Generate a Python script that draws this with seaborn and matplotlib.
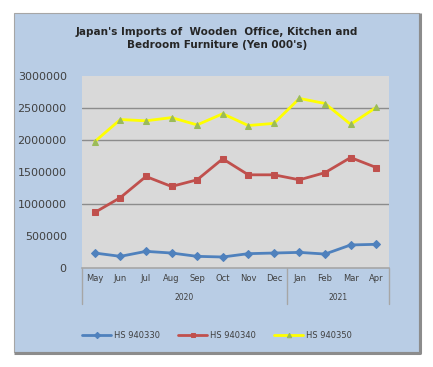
import pandas as pd
import matplotlib.pyplot as plt
import matplotlib.transforms as mtransforms
from matplotlib.patches import Rectangle
import seaborn as sns

months = ['May', 'Jun', 'Jul', 'Aug', 'Sep', 'Oct', 'Nov', 'Dec',
          'Jan', 'Feb', 'Mar', 'Apr']
years = ['2020', '2021']
hs940330 = [234000, 182000, 260000, 234000, 182000, 172000, 224000, 234000,
            244000, 218000, 360000, 370000]
hs940340 = [868000, 1100000, 1430000, 1274000, 1378000, 1706000, 1456000,
            1456000, 1378000, 1490000, 1726000, 1570000]
hs940350 = [1976000, 2320000, 2300000, 2350000, 2236000, 2410000, 2226000,
            2260000, 2650000, 2570000, 2245000, 2510000]
series_names = ['HS 940330', 'HS 940340', 'HS 940350']
visible_grid = [1000000, 2000000, 2500000]

df = pd.DataFrame({'month': months * 3,
                   'value': hs940330 + hs940340 + hs940350,
                   'series': [s for s in series_names for _ in months]})

sns.set_style('white')
plt.rcParams['font.family'] = ['DejaVu Sans']

fig = plt.figure(figsize=(4.33, 3.67), dpi=100)
fig.patch.set_facecolor('white')

# light blue chart box behind everything
bg = fig.add_axes([0, 0, 1, 1], zorder=-1)
bg.axis('off')
bg.set_xlim(0, 433)
bg.set_ylim(367, 0)
bg.add_patch(Rectangle((14, 13), 405, 339, facecolor='#B9CDE5',
                       edgecolor='#A6A6A6', linewidth=0.8))
bg.plot([419.5, 419.5, 14], [13, 352.5, 352.5], color='#8C8C8C', linewidth=2.2,
        solid_capstyle='butt')

ax = fig.add_axes([82 / 433, 1 - 268 / 367, 307 / 433, 192 / 367], zorder=1)
ax.set_facecolor('#D9D9D9')

palette = {'HS 940330': '#4F81BD', 'HS 940340': '#C0504D', 'HS 940350': '#FFFF00'}
marks = {'HS 940330': 'D', 'HS 940340': 's', 'HS 940350': '^'}
sns.lineplot(data=df, x='month', y='value', hue='series', style='series',
             palette=palette, markers=marks, dashes=False, linewidth=2,
             markersize=4, ax=ax, legend=False, sort=False)
# olive markers on the yellow line
for line in ax.lines:
    if line.get_marker() == '^':
        line.set_markerfacecolor('#9BBB59')
        line.set_markeredgecolor('#9BBB59')
    else:
        line.set_markeredgecolor(line.get_color())
    line.set_zorder(3)

for g in visible_grid:
    ax.axhline(g, color='#8C8C8C', linewidth=1, zorder=1)

ax.set_xlim(-0.5, 11.5)
ax.set_ylim(0, 3000000)
ax.set_yticks(range(0, 3000001, 500000))
ax.set_yticklabels([str(v) for v in range(0, 3000001, 500000)])
ax.set_xlabel('')
ax.set_ylabel('')
ax.tick_params(axis='y', length=0, pad=11, labelsize=8, labelcolor='#404040')
ax.tick_params(axis='x', length=0, pad=4, labelsize=6, labelcolor='#404040')
for s in ['top', 'right', 'left']:
    ax.spines[s].set_visible(False)
ax.spines['bottom'].set_color('#A6A6A6')
ax.spines['bottom'].set_linewidth(1.2)

trans = mtransforms.blended_transform_factory(ax.transData, ax.transAxes)
for xs in [-0.5, 7.5, 11.5]:
    ax.plot([xs, xs], [0, -0.185], transform=trans, color='#A6A6A6',
            linewidth=1, clip_on=False)
ax.text(3.5, -0.155, years[0], transform=trans, ha='center', va='center',
        fontsize=5.5, color='#404040')
ax.text(9.5, -0.155, years[1], transform=trans, ha='center', va='center',
        fontsize=5.5, color='#404040')

fig.text(217 / 433, 1 - 32 / 367,
         "Japan's Imports of  Wooden  Office, Kitchen and",
         ha='center', va='center', fontsize=7.5, fontweight='bold', color='#262626')
fig.text(217 / 433, 1 - 45 / 367, "Bedroom Furniture (Yen 000's)",
         ha='center', va='center', fontsize=7.5, fontweight='bold', color='#262626')

handles = ax.lines[:3]
fig.legend(handles, series_names, loc='center', ncol=3, frameon=False,
           bbox_to_anchor=(217 / 433, 1 - 335 / 367), fontsize=6,
           handlelength=3.5, handletextpad=0.3, columnspacing=2.2,
           labelcolor='#404040', markerscale=0.8)

fig.savefig('out.png', dpi=100, facecolor='white')
